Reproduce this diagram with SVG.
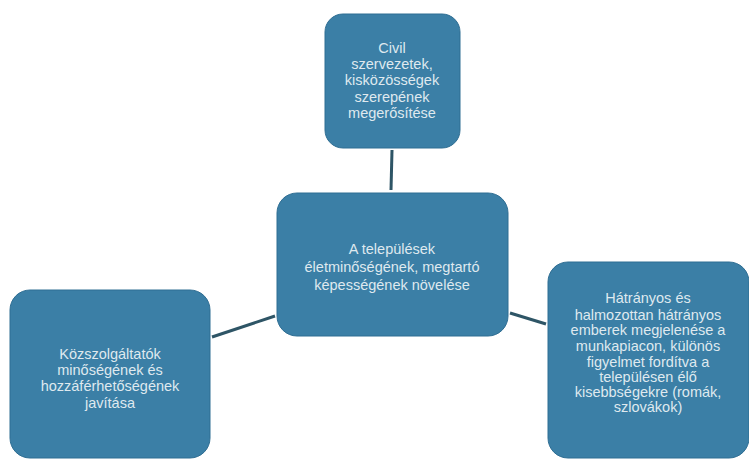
<svg xmlns="http://www.w3.org/2000/svg" width="749" height="461" viewBox="0 0 749 461">
<style>
.box{fill:#3b7fa6;stroke:#2f6e93;stroke-width:1}
.t{font-family:"Liberation Sans",Arial,sans-serif;font-size:14.5px;fill:#dfe9ef;text-anchor:middle}
.c{stroke:#2e5566;stroke-width:3;fill:none}
</style>
<rect width="749" height="461" fill="#ffffff"/>
<g id="connectors">
<line class="c" x1="392" y1="150" x2="391" y2="190"/>
<line class="c" x1="212" y1="337" x2="275" y2="316"/>
<line class="c" x1="510" y1="313" x2="546" y2="324"/>
</g>
<g id="top">
<rect class="box" x="325" y="14" width="135" height="134" rx="18"/>
<text class="t" x="392" y="53">Civil</text>
<text class="t" x="392" y="69">szervezetek,</text>
<text class="t" x="392" y="85">kisközösségek</text>
<text class="t" x="392" y="102">szerepének</text>
<text class="t" x="392" y="118">megerősítése</text>
</g>
<g id="center">
<rect class="box" x="277" y="193" width="231" height="143" rx="20"/>
<text class="t" x="392" y="254">A települések</text>
<text class="t" x="392" y="272">életminőségének, megtartó</text>
<text class="t" x="392" y="290">képességének növelése</text>
</g>
<g id="left">
<rect class="box" x="10" y="290" width="200" height="168" rx="20"/>
<text class="t" x="110" y="359">Közszolgáltatók</text>
<text class="t" x="110" y="375">minőségének és</text>
<text class="t" x="110" y="391">hozzáférhetőségének</text>
<text class="t" x="110" y="408">javítása</text>
</g>
<g id="right">
<rect class="box" x="548" y="262" width="201" height="196" rx="20"/>
<text class="t" x="648" y="303">Hátrányos és</text>
<text class="t" x="648" y="320">halmozottan hátrányos</text>
<text class="t" x="648" y="335">emberek megjelenése a</text>
<text class="t" x="648" y="351">munkapiacon, különös</text>
<text class="t" x="648" y="367">figyelmet fordítva a</text>
<text class="t" x="648" y="382">településen élő</text>
<text class="t" x="648" y="397">kisebbségekre (romák,</text>
<text class="t" x="648" y="412">szlovákok)</text>
</g>
</svg>
